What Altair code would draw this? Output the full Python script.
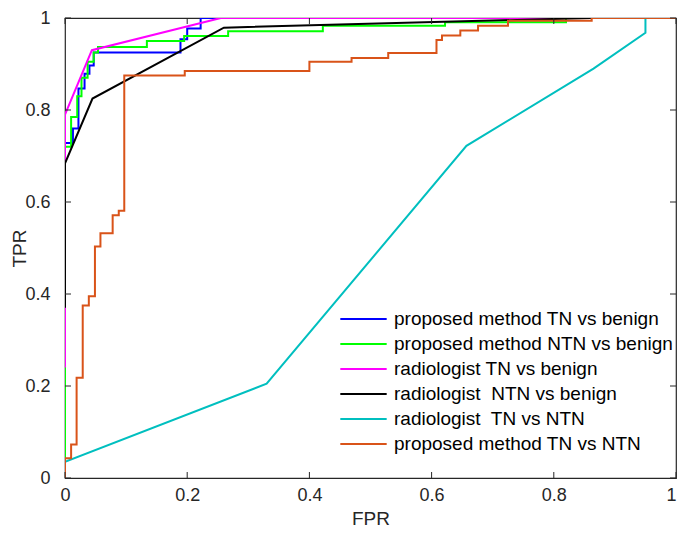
import altair as alt
import pandas as pd

series_names = [
    "proposed method TN vs benign",
    "proposed method NTN vs benign",
    "radiologist TN vs benign",
    "radiologist\u00a0 NTN vs benign",
    "radiologist\u00a0 TN vs NTN",
    "proposed method TN vs NTN",
]
series_colors = ["#0000FF", "#00FF00", "#FF00FF", "#000000", "#00BFBF", "#D95319"]

blue_x = [0, 0, 0.013, 0.013, 0.022, 0.022, 0.032, 0.032, 0.040, 0.040, 0.047, 0.047, 0.189, 0.189, 0.200, 0.200, 0.222, 0.222, 1]
blue_y = [0, 0.728, 0.728, 0.760, 0.760, 0.847, 0.847, 0.879, 0.879, 0.897, 0.897, 0.925, 0.925, 0.954, 0.954, 0.977, 0.977, 1, 1]

green_x = [0, 0, 0.010, 0.010, 0.020, 0.020, 0.027, 0.027, 0.037, 0.037, 0.047, 0.047, 0.054, 0.054, 0.134, 0.134, 0.195, 0.195, 0.267, 0.267, 0.422, 0.422, 0.622, 0.622, 0.820, 0.820, 1]
green_y = [0, 0.720, 0.720, 0.785, 0.785, 0.830, 0.830, 0.870, 0.870, 0.905, 0.905, 0.925, 0.925, 0.937, 0.937, 0.950, 0.950, 0.961, 0.961, 0.971, 0.971, 0.983, 0.983, 0.991, 0.991, 1, 1]

magenta_x = [0, 0, 0.044, 0.255, 1]
magenta_y = [0.24, 0.79, 0.930, 1, 1]

black_x = [0, 0, 0.045, 0.260, 0.860, 1]
black_y = [0.37, 0.684, 0.825, 0.979, 1, 1]

cyan_x = [0, 0, 0.330, 0.657, 0.865, 0.950, 0.950, 1]
cyan_y = [0, 0.035, 0.205, 0.722, 0.890, 0.968, 1, 1]

orange_x = [0, 0, 0.010, 0.010, 0.019, 0.019, 0.029, 0.029, 0.039, 0.039, 0.049, 0.049, 0.058, 0.058, 0.078, 0.078, 0.088, 0.088, 0.097, 0.097, 0.196, 0.196, 0.400, 0.400, 0.469, 0.469, 0.529, 0.529, 0.608, 0.608, 0.617, 0.617, 0.647, 0.647, 0.676, 0.676, 0.725, 0.725, 0.862, 0.862, 1]
orange_y = [0, 0.043, 0.043, 0.073, 0.073, 0.218, 0.218, 0.375, 0.375, 0.395, 0.395, 0.503, 0.503, 0.532, 0.532, 0.571, 0.571, 0.581, 0.581, 0.875, 0.875, 0.885, 0.885, 0.905, 0.905, 0.913, 0.913, 0.924, 0.924, 0.952, 0.952, 0.962, 0.962, 0.973, 0.973, 0.983, 0.983, 0.994, 0.994, 1, 1]

tick_values = [0, 0.2, 0.4, 0.6, 0.8, 1]

all_x = [blue_x, green_x, magenta_x, black_x, cyan_x, orange_x]
all_y = [blue_y, green_y, magenta_y, black_y, cyan_y, orange_y]

rows = []
for name, xs, ys in zip(series_names, all_x, all_y):
    for i, (xv, yv) in enumerate(zip(xs, ys)):
        rows.append({"series": name, "FPR": xv, "TPR": yv, "i": i})
df = pd.DataFrame(rows)
ticks_df = pd.DataFrame({"t": tick_values})

W, H = 611, 460
FONT = "Liberation Sans"
TXT = "#262626"

xscale = alt.Scale(domain=[0, 1], nice=False, zero=False)
yscale = alt.Scale(domain=[0, 1], nice=False, zero=False)
color = alt.Color(
    "series:N",
    scale=alt.Scale(domain=series_names, range=series_colors),
    legend=alt.Legend(
        title=None,
        orient="none",
        legendX=274,
        legendY=291,
        symbolType="stroke",
        symbolSize=2150,
        symbolStrokeWidth=2,
        labelFontSize=19,
        labelFont=FONT,
        labelColor="#000000",
        labelLimit=400,
        labelOffset=6,
        rowPadding=5,
        clipHeight=20,
        padding=0,
    ),
)

x_axis = alt.Axis(values=tick_values, format="~g", labelPadding=8, labelFlush=False,
                  labelAlign=alt.ExprRef(expr="datum.value == 1 ? 'right' : 'center'"),
                  titleX=W / 2, titleY=31, titleBaseline="top", titleAlign="center")
y_axis = alt.Axis(values=tick_values, format="~g", labelPadding=15, labelFlush=False,
                  titleX=-46, titleY=H / 2, titleAngle=270,
                  titleBaseline="middle", titleAlign="center")

layers = []
for name in series_names:
    layers.append(
        alt.Chart(df)
        .transform_filter(alt.datum.series == name)
        .mark_line(strokeWidth=2, clip=True)
        .encode(
            x=alt.X("FPR:Q", scale=xscale, title="FPR", axis=x_axis),
            y=alt.Y("TPR:Q", scale=yscale, title="TPR", axis=y_axis),
            color=color,
            order=alt.Order("i:Q"),
        )
    )

tick_base = alt.Chart(ticks_df)
bottom_ticks = tick_base.mark_rule(color=TXT, strokeWidth=1).encode(
    x=alt.X("t:Q", scale=xscale), y=alt.value(H), y2=alt.value(H - 6))
top_ticks = tick_base.mark_rule(color=TXT, strokeWidth=1).encode(
    x=alt.X("t:Q", scale=xscale), y=alt.value(0), y2=alt.value(6))
left_ticks = tick_base.mark_rule(color=TXT, strokeWidth=1).encode(
    y=alt.Y("t:Q", scale=yscale), x=alt.value(0), x2=alt.value(6))
right_ticks = tick_base.mark_rule(color=TXT, strokeWidth=1).encode(
    y=alt.Y("t:Q", scale=yscale), x=alt.value(W - 6), x2=alt.value(W))

chart = (
    alt.layer(*layers, bottom_ticks, top_ticks, left_ticks, right_ticks)
    .properties(
        width=W,
        height=H,
        autosize=alt.AutoSizeParams(type="none"),
        padding={"left": 57, "top": 10, "right": 1, "bottom": 50},
        background="white",
    )
    .configure_view(stroke=TXT, strokeWidth=1.2)
    .configure_axis(
        grid=False,
        domain=False,
        ticks=False,
        labelFont=FONT,
        labelFontSize=18,
        labelColor=TXT,
        titleFont=FONT,
        titleFontSize=19,
        titleFontWeight="normal",
        titleColor=TXT,
    )
)

chart.save("out.html", embed_options={"renderer": "svg", "actions": False})
